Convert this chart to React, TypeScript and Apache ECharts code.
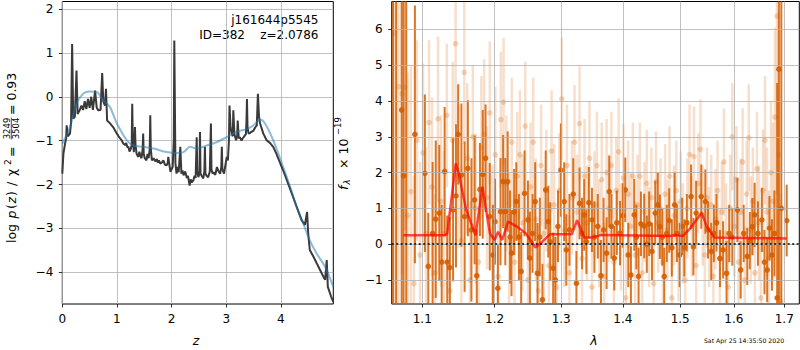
import React, { useEffect, useRef } from 'react';
import * as echarts from 'echarts';

const FONT = 'DejaVu Sans';

// ---- Left panel: log p(z) ----
const zBlack = [0, 0.02, 0.05, 0.07, 0.08, 0.1, 0.14, 0.16, 0.18, 0.2, 0.23, 0.26, 0.28, 0.32, 0.35, 0.38, 0.41, 0.44, 0.47, 0.5, 0.53, 0.56, 0.6, 0.63, 0.66, 0.7, 0.73, 0.75, 0.78, 0.8, 0.82, 0.87, 0.93, 1.0, 1.03, 1.06, 1.09, 1.12, 1.15, 1.17, 1.19, 1.21, 1.23, 1.25, 1.27, 1.28, 1.29, 1.31, 1.32, 1.33, 1.34, 1.36, 1.39, 1.41, 1.43, 1.45, 1.47, 1.48, 1.49, 1.51, 1.54, 1.56, 1.58, 1.6, 1.61, 1.62, 1.64, 1.67, 1.7, 1.73, 1.75, 1.77, 1.79, 1.82, 1.85, 1.88, 1.91, 1.93, 1.94, 1.96, 1.98, 2.0, 2.02, 2.04, 2.05, 2.07, 2.09, 2.11, 2.13, 2.16, 2.18, 2.2, 2.22, 2.25, 2.28, 2.3, 2.33, 2.35, 2.37, 2.4, 2.42, 2.44, 2.46, 2.47, 2.49, 2.51, 2.52, 2.53, 2.55, 2.58, 2.6, 2.61, 2.62, 2.64, 2.67, 2.7, 2.72, 2.73, 2.75, 2.77, 2.8, 2.83, 2.86, 2.89, 2.91, 2.92, 2.93, 2.96, 2.98, 3.01, 3.03, 3.05, 3.06, 3.08, 3.1, 3.12, 3.13, 3.15, 3.18, 3.2, 3.21, 3.23, 3.25, 3.28, 3.3, 3.33, 3.36, 3.37, 3.38, 3.39, 3.41, 3.44, 3.46, 3.5, 3.53, 3.56, 3.58, 3.6, 3.62, 3.68, 3.74, 3.8, 3.86, 3.92, 3.99, 4.05, 4.11, 4.2, 4.29, 4.38, 4.44, 4.48, 4.5, 4.53, 4.6, 4.66, 4.72, 4.78, 4.81, 4.84, 4.86, 4.92, 4.96];
const pBlack = [-1.75, -1.3, -1.07, -0.95, -0.65, -0.9, -0.84, -0.6, 1.2, -0.5, -0.45, 0.6, -0.39, -0.3, -0.2, -0.3, -0.1, -0.28, -0.05, -0.25, 0.0, -0.3, 0.14, -0.25, -0.31, -0.3, 0.54, -0.1, -0.2, 0.18, -0.54, -0.6, -0.69, -0.84, -0.9, -0.95, -1.0, -1.07, -1.1, -1.05, -1.15, -1.14, -1.25, -1.2, -1.1, -0.16, -1.0, -1.26, -1.0, -0.69, -1.1, -1.3, -1.37, -1.25, -1.35, -1.4, -1.2, -0.84, -1.3, -1.4, -1.45, -1.3, -1.4, -1.2, -0.42, -1.2, -1.45, -1.4, -1.47, -1.42, -1.5, -1.45, -1.52, -1.5, -1.45, -1.55, -1.56, -1.5, -1.37, -1.55, -1.71, -1.65, -1.6, -1.0, 1.28, -1.5, -1.75, -1.6, -1.72, -1.14, -1.75, -1.68, -1.79, -1.7, -1.85, -1.8, -2.02, -1.88, -1.95, -1.9, -1.8, -1.85, -0.92, -1.7, -1.83, -1.75, -0.8, -1.75, -1.8, -1.86, -1.7, -1.14, -1.75, -1.8, -1.83, -1.7, -0.61, -1.65, -1.75, -1.72, -1.78, -1.6, -1.7, -1.75, -1.6, -1.14, -1.65, -1.75, -1.6, -1.37, -1.45, -1.0, -0.2, -0.7, -0.84, -0.9, -0.31, -0.85, -0.99, -0.9, -0.54, -0.95, -0.92, -1.0, -0.95, -0.9, -0.85, -0.6, -0.05, -0.7, -0.84, -0.82, -0.8, -0.77, -0.7, -0.65, 0.07, -0.45, -0.61, -0.84, -0.99, -1.05, -1.14, -1.3, -1.52, -1.7, -1.9, -2.2, -2.51, -2.81, -2.92, -2.62, -3.11, -3.49, -3.65, -3.8, -3.95, -4.1, -4.17, -3.72, -4.33, -4.55, -4.67];
const zBlue = [0, 0.14, 0.26, 0.38, 0.5, 0.63, 0.75, 0.87, 1.0, 1.18, 1.3, 1.48, 1.67, 1.91, 2.09, 2.22, 2.34, 2.46, 2.64, 2.83, 3.01, 3.19, 3.38, 3.5, 3.62, 3.71, 3.86, 4.02, 4.17, 4.29, 4.41, 4.53, 4.66, 4.81, 4.96];
const pBlue = [-1.07, -0.69, -0.16, 0.07, 0.12, 0.11, -0.08, -0.23, -0.61, -0.99, -1.11, -1.14, -1.18, -1.26, -1.28, -1.26, -1.14, -1.18, -1.11, -1.03, -0.92, -0.8, -0.73, -0.65, -0.52, -0.61, -0.99, -1.52, -2.05, -2.51, -2.89, -3.27, -3.58, -3.87, -4.33];
const xTicksLeft = [0, 1, 2, 3, 4];
const yTicksLeft = [-4, -3, -2, -1, 0, 1, 2];

// ---- Right panel: spectrum ----
const lamDark = [1.062, 1.066, 1.0731, 1.0755, 1.079, 1.0903, 1.1035, 1.108, 1.1138, 1.118, 1.1227, 1.126, 1.13, 1.1335, 1.137, 1.1415, 1.1455, 1.1485, 1.153, 1.1575, 1.162, 1.167, 1.1715, 1.1745, 1.179, 1.183, 1.187, 1.193, 1.1975, 1.2005, 1.2047, 1.2085, 1.2123, 1.2155, 1.219, 1.2225, 1.2246, 1.2285, 1.2317, 1.2356, 1.2389, 1.244, 1.249, 1.252, 1.256, 1.26, 1.2635, 1.267, 1.271, 1.276, 1.28, 1.283, 1.2875, 1.2908, 1.295, 1.2995, 1.3047, 1.308, 1.313, 1.319, 1.324, 1.329, 1.333, 1.3365, 1.34, 1.344, 1.349, 1.353, 1.3585, 1.3637, 1.368, 1.373, 1.3774, 1.381, 1.3857, 1.39, 1.3953, 1.4, 1.4042, 1.4092, 1.4137, 1.4194, 1.423, 1.4268, 1.4308, 1.4365, 1.441, 1.4451, 1.45, 1.4556, 1.46, 1.4638, 1.468, 1.4715, 1.476, 1.4803, 1.485, 1.49, 1.494, 1.499, 1.5035, 1.5075, 1.512, 1.5198, 1.5241, 1.529, 1.5385, 1.546, 1.551, 1.557, 1.562, 1.567, 1.5735, 1.5795, 1.586, 1.591, 1.597, 1.6068, 1.6132, 1.619, 1.626, 1.631, 1.636, 1.6405, 1.647, 1.6548, 1.66, 1.6654, 1.67, 1.675, 1.68, 1.6855, 1.689, 1.694, 1.705];
const fluxDark = [7.5, -2.5, 3.75, 1.91, -1.9, 3.07, 1.98, -0.62, 0.3, 0.7, 0.87, -0.5, 2.03, -0.5, -0.65, 0.96, 1.35, 3.07, 1.93, 0.77, 2.12, 0.4, 1.24, -0.88, 1.53, 1.95, 2.4, 0.77, -0.3, 0.63, -1.23, 0.91, 1.75, 0.91, 1.75, 0.2, -0.25, 0.9, 1.19, 0.2, -0.76, 1.42, 0.68, -0.39, 0.3, 1.19, -0.81, 0.2, -1.55, 1.52, 0.63, 0.07, -0.67, -1.0, 0.5, 2.07, 1.19, -0.16, 0.4, 1.4, -1.09, 1.14, 0.3, 0.82, 0.07, 1.16, 0.68, 0.2, 0.5, -0.88, 0.4, -0.25, 1.47, 0.5, -0.39, 0.6, 0.31, 0.8, 1.52, -0.3, -0.86, 0.82, 0.2, -0.9, 0.57, 0.51, 0.0, 0.57, -0.2, 0.87, 1.1, 0.49, 0.2, -0.9, 0.3, 0.66, -0.1, 1.1, 0.3, -0.3, 0.5, -0.1, 0.6, 1.33, -0.07, 0.87, 1.33, 1.19, 0.4, -0.2, 0.3, 0.6, -0.4, -0.16, -0.81, 0.3, 0.2, 0.96, -0.72, 0.3, -0.34, 0.1, 0.49, 0.82, 0.3, 0.68, -0.5, -0.72, 0.45, -0.3, 0.3, -1.5, 4.89, 1.0, 0.66];
const errDark = [10, 10, 10, 10, 9, 3.6, 2.2, 1.5, 2.0, 2.2, 1.9, 1.6, 1.8, 1.3, 1.4, 2.0, 2.0, 1.4, 2.0, 2.1, 1.9, 2.0, 1.8, 1.3, 1.3, 1.8, 1.5, 1.5, 1.4, 1.2, 1.2, 1.5, 1.3, 1.5, 1.4, 1.3, 1.2, 1.2, 1.1, 1.2, 1.1, 1.2, 1.1, 1.3, 1.1, 1.1, 1.4, 1.1, 1.0, 1.1, 1.0, 1.1, 1.0, 1.2, 1.0, 1.3, 1.1, 1.0, 1.0, 1.0, 0.9, 1.0, 1.0, 1.0, 0.9, 1.0, 0.9, 1.0, 0.9, 1.0, 0.9, 1.0, 1.0, 0.9, 0.9, 0.9, 0.9, 0.9, 0.9, 0.9, 0.8, 1.0, 0.9, 0.8, 0.9, 0.9, 0.8, 0.9, 0.8, 0.9, 0.9, 0.9, 0.8, 0.8, 0.8, 0.9, 0.8, 0.9, 0.8, 0.9, 0.8, 0.8, 0.8, 0.9, 0.8, 0.9, 0.9, 0.9, 0.8, 0.8, 0.8, 0.8, 0.8, 0.8, 0.9, 0.8, 0.8, 0.9, 0.8, 0.8, 0.8, 0.8, 0.8, 0.9, 0.9, 0.9, 0.9, 0.9, 0.9, 1.0, 1.2, 6, 9, 12, 1.0];

const lamLight = [1.06, 1.064, 1.069, 1.0735, 1.077, 1.081, 1.085, 1.089, 1.093, 1.097, 1.101, 1.105, 1.109, 1.113, 1.117, 1.121, 1.125, 1.129, 1.133, 1.137, 1.141, 1.145, 1.149, 1.153, 1.157, 1.161, 1.165, 1.169, 1.173, 1.177, 1.181, 1.185, 1.189, 1.193, 1.197, 1.201, 1.205, 1.209, 1.213, 1.217, 1.221, 1.225, 1.229, 1.233, 1.237, 1.241, 1.245, 1.249, 1.253, 1.257, 1.261, 1.265, 1.269, 1.273, 1.277, 1.281, 1.285, 1.289, 1.293, 1.297, 1.301, 1.305, 1.309, 1.313, 1.317, 1.321, 1.325, 1.329, 1.333, 1.337, 1.341, 1.345, 1.349, 1.353, 1.357, 1.361, 1.365, 1.369, 1.373, 1.377, 1.381, 1.385, 1.389, 1.393, 1.397, 1.401, 1.405, 1.409, 1.413, 1.417, 1.421, 1.425, 1.429, 1.433, 1.437, 1.441, 1.445, 1.449, 1.453, 1.457, 1.461, 1.465, 1.469, 1.473, 1.477, 1.481, 1.485, 1.489, 1.493, 1.497, 1.501, 1.505, 1.509, 1.513, 1.517, 1.521, 1.525, 1.529, 1.533, 1.537, 1.541, 1.545, 1.549, 1.553, 1.557, 1.561, 1.565, 1.569, 1.573, 1.577, 1.581, 1.585, 1.589, 1.593, 1.597, 1.601, 1.605, 1.609, 1.613, 1.617, 1.621, 1.625, 1.629, 1.633, 1.637, 1.641, 1.645, 1.649, 1.653, 1.657, 1.661, 1.665, 1.669, 1.673, 1.677, 1.681, 1.685, 1.689, 1.693];
const fluxLight = [1.5, 5.9, 4.4, 4.2, 4.38, 0.8, 1.47, -1.1, 2.9, -0.3, 2.55, 0.3, 3.4, 1.6, -0.8, 3.5, 1.2, 0.3, 3.6, -1.3, 2.9, 5.6, 1.9, 0.1, 4.8, 2.4, -1.0, 3.0, 1.0, -0.5, 2.7, 3.07, 1.3, 3.67, 0.2, 2.5, -0.9, 3.48, 3.97, 1.7, 0.1, 2.85, -0.5, 1.9, 2.5, 0.6, 3.3, -1.0, 1.6, 2.85, 0.7, -1.3, 2.2, 0.3, 1.5, -0.6, 2.6, 1.1, -1.2, 1.5, 4.06, 0.4, 2.2, -0.8, 1.3, 2.85, 0.9, 3.37, -0.4, 1.9, 0.6, 2.4, -1.2, 1.1, 2.2, 0.3, 1.8, -0.9, 2.0, 1.0, 2.2, -0.5, 1.5, 2.58, 0.2, 1.85, -1.5, 1.4, 0.5, 1.9, -0.3, 1.1, 1.9, -0.8, 0.9, 1.7, 0.2, 1.3, -1.1, 1.75, 0.6, 1.0, -0.5, 1.4, 0.4, 1.9, -1.5, 0.8, 1.5, -0.2, 1.2, 0.3, -1.0, 1.0, 2.5, 0.5, 2.45, -0.6, 1.7, 2.65, 0.8, -0.3, 1.3, 0.2, 1.1, -0.9, 0.7, 1.5, -0.4, 0.9, 2.3, 0.3, -1.2, 1.0, 3.0, 0.5, 1.8, -0.5, 0.9, 2.3, -1.0, 1.4, 2.97, 0.4, 1.2, -0.8, 2.1, 0.6, -1.5, 1.5, 2.9, 0.9, -0.4, 2.0, 1.2, 3.55, 6.37, 2.5, -1.6];
const errLight = [10, 10, 9, 5, 4, 4, 3.5, 3, 2.8, 2.6, 2.5, 2.4, 2.3, 2.5, 2.2, 2.3, 2.4, 2.3, 2.0, 2.2, 2.2, 2.3, 2.0, 2.1, 2.0, 2.1, 2.2, 2.0, 2.1, 2.0, 2.0, 2.1, 2.0, 2.0, 2.0, 1.9, 1.9, 1.9, 1.8, 1.9, 1.9, 1.8, 1.9, 1.8, 1.8, 1.9, 1.8, 1.8, 1.8, 1.8, 1.7, 1.8, 1.7, 1.8, 1.7, 1.7, 1.7, 1.7, 1.7, 1.6, 1.7, 1.6, 1.7, 1.6, 1.6, 1.6, 1.6, 1.6, 1.6, 1.6, 1.6, 1.6, 1.6, 1.5, 1.5, 1.5, 1.6, 1.5, 1.5, 1.5, 1.5, 1.5, 1.5, 1.5, 1.5, 1.5, 1.5, 1.5, 1.5, 1.5, 1.5, 1.4, 1.5, 1.4, 1.4, 1.5, 1.4, 1.4, 1.4, 1.4, 1.4, 1.4, 1.4, 1.4, 1.4, 1.4, 1.4, 1.4, 1.4, 1.4, 1.4, 1.4, 1.4, 1.4, 1.4, 1.4, 1.4, 1.4, 1.4, 1.4, 1.4, 1.4, 1.4, 1.4, 1.4, 1.4, 1.4, 1.4, 1.4, 1.4, 1.5, 1.4, 1.4, 1.5, 1.5, 1.4, 1.5, 1.4, 1.5, 1.5, 1.5, 1.5, 1.5, 1.5, 1.5, 1.5, 1.6, 1.6, 1.6, 1.7, 1.8, 1.8, 1.9, 2.0, 2.2, 2.5, 5, 4, 3];

const lamModel = [1.0752, 1.1306, 1.1335, 1.1452, 1.149, 1.1595, 1.1728, 1.1826, 1.187, 1.1933, 1.2, 1.205, 1.211, 1.2196, 1.232, 1.246, 1.2604, 1.2708, 1.283, 1.3167, 1.325, 1.3366, 1.3497, 1.3649, 1.4817, 1.4905, 1.5049, 1.517, 1.5392, 1.5485, 1.5624, 1.705];
const fluxModel = [0.25, 0.25, 0.3, 2.26, 2.0, 0.97, 0.25, 1.61, 1.05, 0.3, 0.12, 0.35, 0.12, 0.63, 0.5, 0.3, -0.09, 0.07, 0.28, 0.28, 0.67, 0.19, 0.19, 0.26, 0.23, 0.26, 0.23, 0.42, 0.88, 0.5, 0.19, 0.16];
const xTicksRight = [1.1, 1.2, 1.3, 1.4, 1.5, 1.6, 1.7];
const yTicksRight = [-1, 0, 1, 2, 3, 4, 5, 6];

const fmtNum = (v: number) => (v < 0 ? '\u2212' : '') + String(Math.abs(Math.round(v)));

function errRender(bar: string, dot: string, lw: number, r: number) {
  return (params: any, api: any) => {
    const x = api.value(0), y = api.value(1), e = api.value(2);
    const p0 = api.coord([x, y - e]);
    const p1 = api.coord([x, y + e]);
    const c = api.coord([x, y]);
    return {
      type: 'group',
      children: [
        { type: 'line', shape: { x1: p0[0], y1: p0[1], x2: p1[0], y2: p1[1] }, style: { stroke: bar, lineWidth: lw } },
        { type: 'circle', shape: { cx: c[0], cy: c[1], r }, style: { fill: dot } },
      ],
    };
  };
}

const axisCommon = (ticks: number[], fmt: (v: number) => string, z: number) => ({
  z,
  axisLine: { show: false, onZero: false },
  axisTick: { show: true, customValues: ticks, length: 3.5, lineStyle: { color: '#000', width: 0.8 } },
  axisLabel: { customValues: ticks, formatter: fmt, fontFamily: FONT, fontSize: 12, color: '#000', margin: 9 },
  splitLine: { show: true, lineStyle: { color: '#b0b0b0', width: 0.8 } },
});

const txt = (x: number, y: number, text: string, font: string, align = 'left') => ({
  type: 'text', x, y, style: { text, fill: '#000', font, textAlign: align, textVerticalAlign: 'middle' },
});

export default function App() {
  const ref = useRef<HTMLDivElement>(null);
  useEffect(() => {
    if (!ref.current) return;
    const chart = echarts.init(ref.current, undefined, { renderer: 'svg' });
    const lnTicks = xTicksRight.map((v) => Math.log(v));
    const F = `12.5px "${FONT}"`;
    const FI = `italic 12.5px "${FONT}"`;
    const option: any = {
      animation: false,
      backgroundColor: '#fff',
      grid: [
        { left: 62.3, top: 1.5, width: 271, height: 302.5, show: true, borderColor: '#000', borderWidth: 1, backgroundColor: 'transparent' },
        { left: 391.7, top: 1.5, width: 407.6, height: 302.5, show: true, borderColor: '#000', borderWidth: 1, backgroundColor: 'transparent' },
      ],
      xAxis: [
        { type: 'value', gridIndex: 0, min: 0, max: 4.96, ...axisCommon(xTicksLeft, fmtNum, 0) },
        { type: 'value', gridIndex: 1, min: Math.log(1.0603), max: Math.log(1.731), ...axisCommon(lnTicks, (v: number) => Math.exp(v).toFixed(1), 3.5) },
      ],
      yAxis: [
        { type: 'value', gridIndex: 0, min: -4.72, max: 2.17, ...axisCommon(yTicksLeft, fmtNum, 0) },
        { type: 'value', gridIndex: 1, min: -1.67, max: 6.78, ...axisCommon(yTicksRight, fmtNum, 3.5) },
      ],
      series: [
        {
          type: 'line', xAxisIndex: 0, yAxisIndex: 0, showSymbol: false, symbol: 'none',
          data: zBlack.map((z, i) => [z, pBlack[i]]),
          lineStyle: { color: '#3a3a3a', width: 2 }, z: 2,
        },
        {
          type: 'line', xAxisIndex: 0, yAxisIndex: 0, showSymbol: false, symbol: 'none', smooth: 0.3,
          data: zBlue.map((z, i) => [z, pBlue[i]]),
          lineStyle: { color: 'rgba(31,119,180,0.5)', width: 2 }, z: 3,
        },
        {
          type: 'custom', xAxisIndex: 1, yAxisIndex: 1, clip: true,
          renderItem: errRender('rgba(213,94,0,0.2)', 'rgba(213,94,0,0.25)', 2.5, 2.8),
          data: lamLight.map((l, i) => [Math.log(l), fluxLight[i], errLight[i]]),
          encode: { x: 0, y: 1 }, z: 2,
        },
        {
          type: 'custom', xAxisIndex: 1, yAxisIndex: 1, clip: true,
          renderItem: errRender('rgba(213,94,0,0.85)', 'rgba(213,94,0,0.9)', 2, 2.8),
          data: lamDark.map((l, i) => [Math.log(l), fluxDark[i], errDark[i]]),
          encode: { x: 0, y: 1 }, z: 3,
        },
        {
          type: 'line', xAxisIndex: 1, yAxisIndex: 1, showSymbol: false, symbol: 'none',
          data: lamModel.map((l, i) => [Math.log(l), fluxModel[i]]),
          lineStyle: { color: 'rgba(255,0,0,0.7)', width: 2.5 }, z: 4,
          markLine: {
            silent: true, symbol: ['none', 'none'], label: { show: false },
            lineStyle: { color: '#000', type: [2, 2.5], width: 1.5 },
            data: [{ yAxis: 0 }],
          },
        },
      ],
      graphic: [
        txt(318.5, 20, 'j161644p5545', `12px "${FONT}"`, 'right'),
        txt(318.5, 34.5, 'ID=382    z=2.0786', `12px "${FONT}"`, 'right'),
        txt(196, 340, 'z', FI, 'center'),
        txt(594, 340, 'λ', FI, 'center'),
        txt(744, 340, 'Sat Apr 25 14:35:50 2020', `6.2px "${FONT}"`, 'center'),
        {
          type: 'group', x: 11.5, y: 243, rotation: Math.PI / 2,
          children: [
            txt(0, 0, 'log', F),
            txt(24.5, 0, 'p', FI),
            txt(34, 0, '(', F),
            txt(39.5, 0, 'z', FI),
            txt(47, 0, ')', F),
            txt(57, 0, '/', F),
            txt(67, 0, 'χ', F),
            txt(78, -4, '2', `9px "${FONT}"`),
            txt(86, 0, '=', F),
            txt(114.5, -5, '3249', `8.5px "${FONT}"`, 'center'),
            txt(114.5, 4.5, '3504', `8.5px "${FONT}"`, 'center'),
            { type: 'line', shape: { x1: 103.5, y1: -0.2, x2: 125.5, y2: -0.2 }, style: { stroke: '#000', lineWidth: 0.7 } },
            txt(128, 0, '= 0.93', F),
          ],
        },
        {
          type: 'group', x: 343, y: 190, rotation: Math.PI / 2,
          children: [
            txt(0, 0, 'f', FI),
            txt(5.5, 3.5, 'λ', `italic 8.5px "${FONT}"`),
            txt(21, 0, '× 10', F),
            txt(55, -5, '\u221219', `8.5px "${FONT}"`),
          ],
        },
      ],
    };
    chart.setOption(option);
    return () => chart.dispose();
  }, []);
  return <div ref={ref} style={{ position: 'fixed', left: 0, top: 0, width: 800, height: 350, background: '#fff' }} />;
}
